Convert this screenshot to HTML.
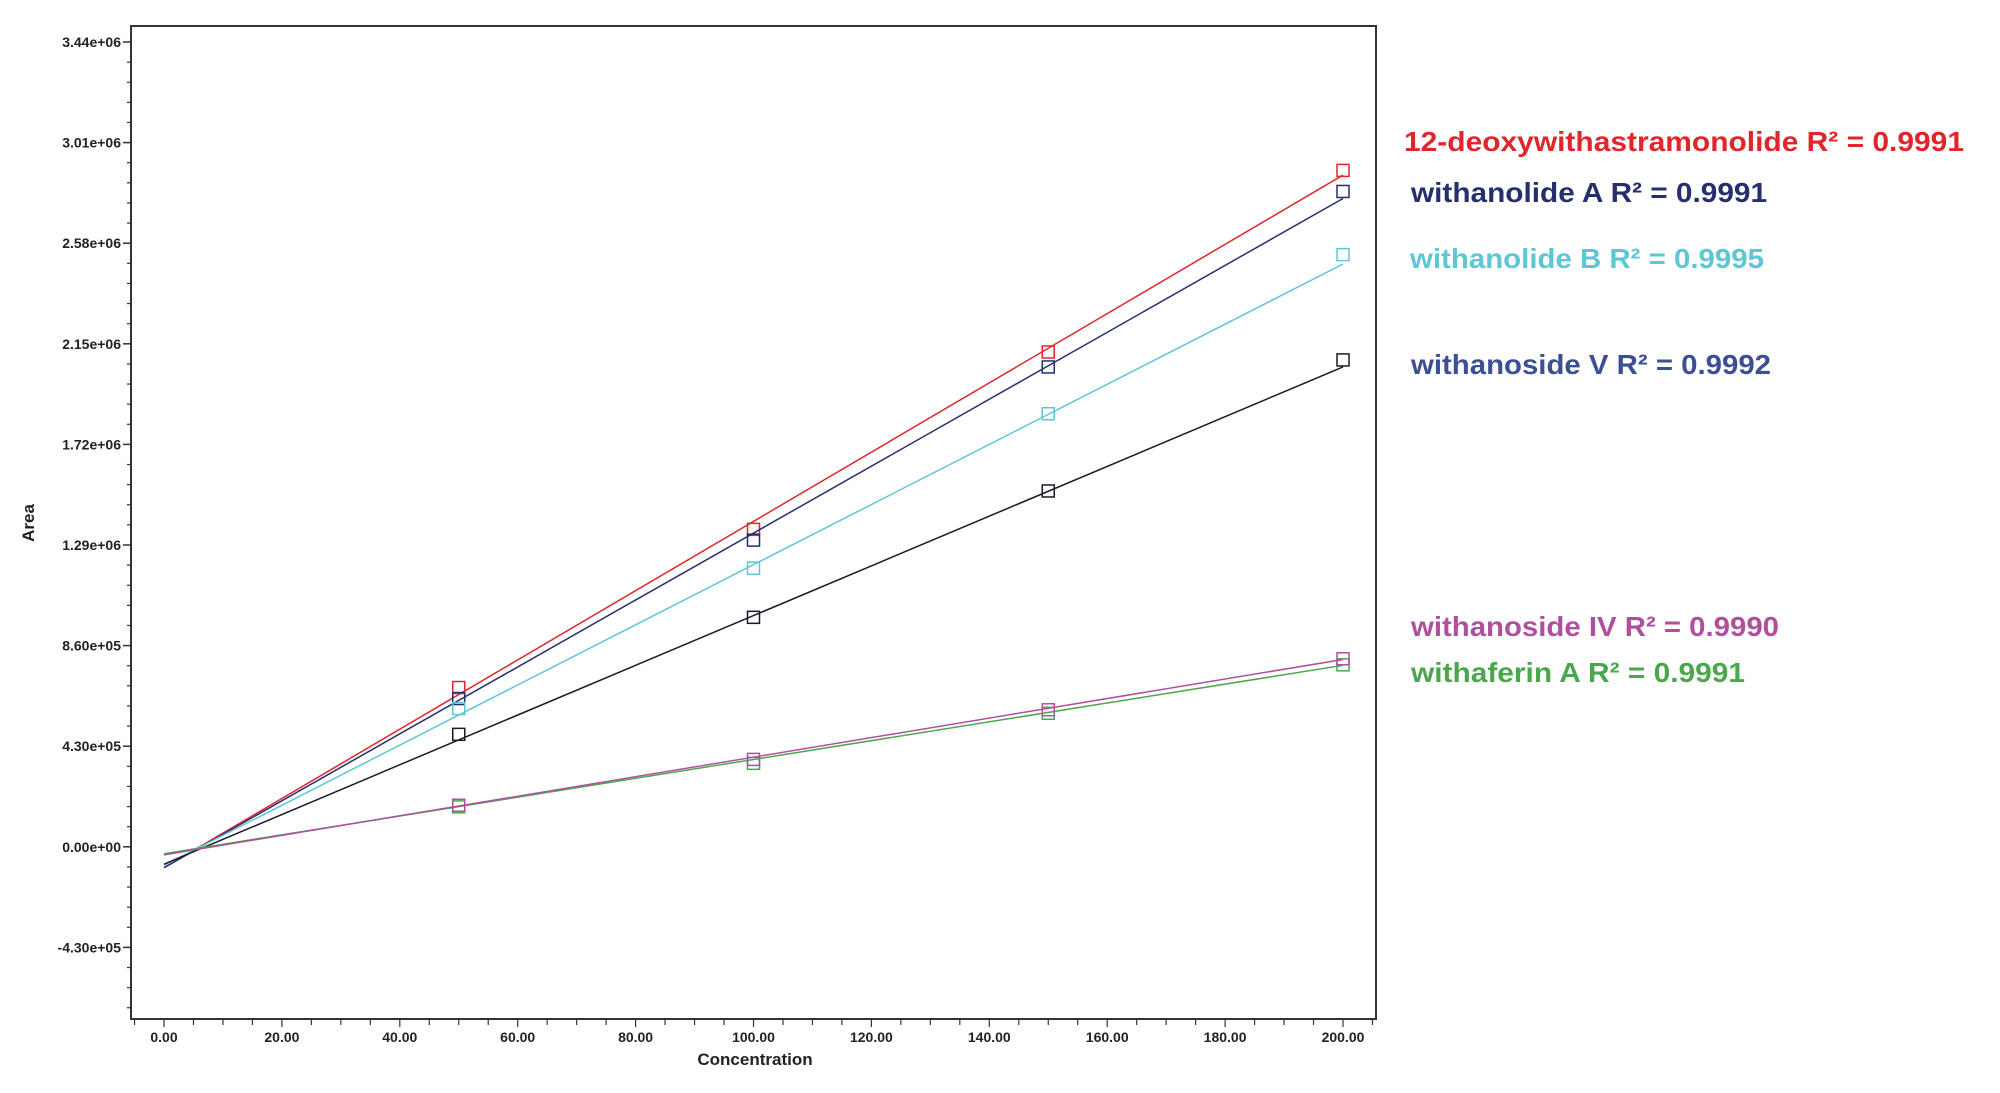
<!DOCTYPE html>
<html><head><meta charset="utf-8"><style>
html,body{margin:0;padding:0;background:#fff;}
svg{display:block;font-family:"Liberation Sans",Arial,sans-serif;}
</style></head><body>
<svg id="s" width="2000" height="1093" viewBox="0 0 2000 1093" xmlns="http://www.w3.org/2000/svg">
<rect x="131" y="26" width="1245" height="993" fill="none" stroke="#333" stroke-width="2"/>
<text x="755" y="1065" font-size="17" font-weight="bold" text-anchor="middle" fill="#222">Concentration</text>
<text transform="translate(34,523) rotate(-90)" font-size="17" font-weight="bold" text-anchor="middle" fill="#222">Area</text>
<g font-size="28" font-weight="bold">
<text x="1404" y="151" fill="#e0262b" textLength="560" lengthAdjust="spacingAndGlyphs">12-deoxywithastramonolide R² = 0.9991</text>
<text x="1411" y="202" fill="#262f6e" textLength="356" lengthAdjust="spacingAndGlyphs">withanolide A R² = 0.9991</text>
<text x="1410" y="268" fill="#5fc6d6" textLength="354" lengthAdjust="spacingAndGlyphs">withanolide B R² = 0.9995</text>
<text x="1411" y="374" fill="#3a4f94" textLength="360" lengthAdjust="spacingAndGlyphs">withanoside V R² = 0.9992</text>
<text x="1411" y="636" fill="#b0509c" textLength="368" lengthAdjust="spacingAndGlyphs">withanoside IV R² = 0.9990</text>
<text x="1411" y="682" fill="#4ca64c" textLength="334" lengthAdjust="spacingAndGlyphs">withaferin A R² = 0.9991</text>
</g>
<g id="g"></g>
</svg>
<script>
var ns="http://www.w3.org/2000/svg",g=document.getElementById("g");
function X(c){return 164+c*5.895;}
function Y(v){return 849-v*234.0;}
function el(t,a,txt){var e=document.createElementNS(ns,t);for(var k in a)e.setAttribute(k,a[k]);if(txt!=null)e.textContent=txt;g.appendChild(e);return e;}
var labs=["3.44e+06","3.01e+06","2.58e+06","2.15e+06","1.72e+06","1.29e+06","8.60e+05","4.30e+05","0.00e+00","-4.30e+05"];
for(var i=0;i<10;i++){var y=42+i*100.6;el("line",{x1:123,x2:131,y1:y,y2:y,stroke:"#333","stroke-width":1.5});
el("text",{x:121,y:y+5,"font-size":14,"font-weight":"bold","text-anchor":"end",fill:"#222"},labs[i]);
for(var j=1;j<5;j++){var yy=y+j*20.12;if(yy<1017)el("line",{x1:127,x2:131,y1:yy,y2:yy,stroke:"#333","stroke-width":1.2});}}
for(var c=-5;c<=205;c+=5){var x=X(c);var maj=c%20==0;el("line",{x1:x,x2:x,y1:1019,y2:maj?1027:1025,stroke:"#333","stroke-width":1.2});
if(maj&&c>=0)el("text",{x:x,y:1042,"font-size":14,"font-weight":"bold","text-anchor":"middle",fill:"#222"},c.toFixed(2));}
var S=[
["#e0262b",-0.08,2.88,[0.69,1.366,2.124,2.90]],
["#262f6e",-0.08,2.78,[0.643,1.32,2.06,2.81]],
["#5fc6d6",-0.07,2.50,[0.60,1.20,1.86,2.54]],
["#1a1a2a",-0.065,2.06,[0.49,0.99,1.53,2.09]],
["#4ca64c",-0.02,0.785,[0.18,0.366,0.58,0.787]],
["#b0509c",-0.025,0.81,[0.187,0.383,0.595,0.813]]];
S.forEach(function(s){
el("line",{x1:X(0),y1:Y(s[1]),x2:X(200),y2:Y(s[2]),stroke:s[0],"stroke-width":1.5});
s[3].forEach(function(v,k){var x=X(50*(k+1)),y=Y(v);el("rect",{x:x-6,y:y-6,width:12,height:12,fill:"none",stroke:s[0],"stroke-width":1.5});});
});
</script>
</body></html>
